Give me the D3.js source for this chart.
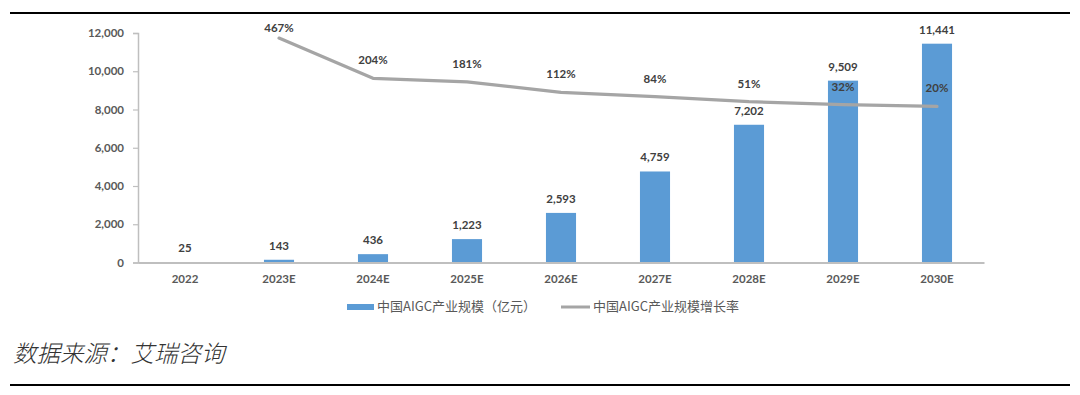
<!DOCTYPE html>
<html><head><meta charset="utf-8">
<script src="https://cdn.jsdelivr.net/npm/d3@7"></script>
<style>
html,body{margin:0;padding:0;background:#fff;}
svg{display:block;}
</style>
</head><body>
<svg id="c" width="1080" height="395"></svg>
<script>
const categories = ["2022","2023E","2024E","2025E","2026E","2027E","2028E","2029E","2030E"];
const scaleValues = [25,143,436,1223,2593,4759,7202,9509,11441];
const growthRates = [null,467,204,181,112,84,51,32,20];
const yTicks = [0,2000,4000,6000,8000,10000,12000];
const legendLabels = ["中国AIGC产业规模（亿元）","中国AIGC产业规模增长率"];
const sourceText = "数据来源：艾瑞咨询";

const svg = d3.select("#c");
const latin = "Lato, 'Open Sans', 'Liberation Sans', sans-serif";
const cjk = "'Noto Sans CJK SC', sans-serif";
const txt = "#595959";

// rules
svg.append("line").attr("x1",10).attr("x2",1070).attr("y1",13).attr("y2",13).attr("stroke","#000").attr("stroke-width",2);
svg.append("line").attr("x1",10).attr("x2",1070).attr("y1",385).attr("y2",385).attr("stroke","#000").attr("stroke-width",2);

const x = d3.scaleBand().domain(categories).range([138,984]).paddingInner(0.68).paddingOuter(0.34);
const y = d3.scaleLinear().domain([0,12000]).range([262.5,33]);
const y2 = d3.scaleLinear().domain([-1000,500]).range([262.5,33]);

// y axis
const yAxis = svg.append("g").attr("transform","translate(138,0)")
  .call(d3.axisLeft(y).tickValues(yTicks).tickSize(5).tickPadding(9).tickFormat(d3.format(",")));
yAxis.select(".domain").attr("stroke","#bfbfbf").attr("stroke-width",1.5);
yAxis.selectAll(".tick line").attr("stroke","#bfbfbf").attr("stroke-width",1.2);
yAxis.selectAll("text").attr("fill",txt).attr("font-family",latin).attr("font-weight","bold").attr("font-size","11.5px");

// bars
svg.append("g").selectAll("rect").data(categories).join("rect")
  .attr("x",d=>x(d)).attr("width",x.bandwidth())
  .attr("y",(d,i)=>y(scaleValues[i])).attr("height",(d,i)=>y(0)-y(scaleValues[i]))
  .attr("fill","#5b9bd5");

// x axis
const xAxis = svg.append("g").attr("transform","translate(0,262.5)")
  .call(d3.axisBottom(x).tickSize(0).tickPadding(12).tickSizeOuter(0));
xAxis.select(".domain").attr("stroke","#bfbfbf").attr("stroke-width",2);
xAxis.selectAll("text").attr("fill",txt).attr("font-family",latin).attr("font-weight","bold").attr("font-size","11.5px");

// bar labels
svg.append("g").selectAll("text").data(categories).join("text")
  .attr("x",d=>x(d)+x.bandwidth()/2).attr("y",(d,i)=>y(scaleValues[i])-13)
  .attr("text-anchor","middle").attr("dominant-baseline","middle")
  .attr("fill","#404040").attr("font-family",latin).attr("font-weight","bold").attr("font-size","11.5px")
  .text((d,i)=>d3.format(",")(scaleValues[i]));

// line
const pts = categories.map((c,i)=>({c, v:growthRates[i]})).filter(d=>d.v!==null);
const line = d3.line().x(d=>x(d.c)+x.bandwidth()/2).y(d=>y2(d.v));
svg.append("path").datum(pts).attr("d",line).attr("fill","none")
  .attr("stroke","#a5a5a5").attr("stroke-width",3.2).attr("stroke-linejoin","round").attr("stroke-linecap","round");

svg.append("g").selectAll("text").data(pts).join("text")
  .attr("x",d=>x(d.c)+x.bandwidth()/2).attr("y",d=>Math.max(y2(d.v)-17,29))
  .attr("text-anchor","middle").attr("dominant-baseline","middle")
  .attr("fill","#404040").attr("font-family",latin).attr("font-weight","bold").attr("font-size","11.5px")
  .text(d=>d.v+"%");

// legend
const lg = svg.append("g");
lg.append("rect").attr("x",347).attr("y",304).attr("width",27).attr("height",6).attr("fill","#5b9bd5");
lg.append("text").attr("x",377).attr("y",307).attr("dominant-baseline","middle")
  .attr("fill",txt).attr("font-family",cjk).attr("font-size","13px").text(legendLabels[0]);
lg.append("line").attr("x1",561).attr("x2",590).attr("y1",307).attr("y2",307).attr("stroke","#a5a5a5").attr("stroke-width",3);
lg.append("text").attr("x",593).attr("y",307).attr("dominant-baseline","middle")
  .attr("fill",txt).attr("font-family",cjk).attr("font-size","13px").text(legendLabels[1]);

// source
svg.append("text").attr("x",13).attr("y",356).attr("dominant-baseline","middle")
  .attr("fill","#333").attr("font-family",cjk).attr("font-style","italic").attr("font-weight","300")
  .attr("font-size","23.5px").text(sourceText);
</script>
</body></html>
